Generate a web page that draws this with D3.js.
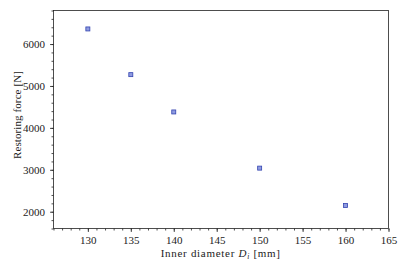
<!DOCTYPE html>
<html><head><meta charset="utf-8">
<script src="https://cdn.jsdelivr.net/npm/d3@7"></script>
<style>body{margin:0;background:#fff}svg{display:block}text{font-family:"Liberation Serif","DejaVu Serif",serif;fill:#222}</style>
</head><body>
<svg id="c" width="404" height="269"></svg>
<script>
const diameters = [130, 135, 140, 150, 160];
const forces = [6360, 5270, 4380, 3040, 2150];
const xTicks = [130, 135, 140, 145, 150, 155, 160, 165];
const yTicks = [2000, 3000, 4000, 5000, 6000];

const svg = d3.select("#c");
const L = 53.5, R = 388.5, T = 10.5, B = 228.5;
const x = d3.scaleLinear().domain([126, 165]).range([L, R]);
const y = d3.scaleLinear().domain([1600, 6800]).range([B, T]);

const fs = 11;
const ff = '"Liberation Serif","DejaVu Serif",serif';
// minor ticks
svg.append("g").attr("transform", `translate(0,${B})`)
  .call(d3.axisBottom(x).tickValues(d3.range(126, 166, 1)).tickSize(2).tickFormat(""));
svg.append("g").attr("transform", `translate(0,${B})`)
  .call(d3.axisBottom(x).tickValues(xTicks).tickSize(3.5).tickPadding(4).tickFormat(d3.format("d")));
svg.append("g").attr("transform", `translate(${L},0)`)
  .call(d3.axisLeft(y).tickValues(d3.range(1600, 6801, 200)).tickSize(2).tickFormat(""));
svg.append("g").attr("transform", `translate(${L},0)`)
  .call(d3.axisLeft(y).tickValues(yTicks).tickSize(3.5).tickPadding(5).tickFormat(d3.format("d")));
svg.selectAll(".domain").remove();
svg.selectAll("g").attr("font-family", ff);
svg.selectAll(".tick line").attr("stroke", "#222").attr("stroke-width", 0.8);
svg.selectAll(".tick text").attr("font-size", fs).attr("fill", "#222").style("font-family", ff);

// frame
svg.append("rect").attr("x", L).attr("y", T).attr("width", R - L).attr("height", B - T)
  .attr("fill", "none").attr("stroke", "#222").attr("stroke-width", 0.8);

// points
svg.append("g").selectAll("rect").data(diameters).join("rect")
  .attr("x", (d) => x(d) - 2).attr("y", (d, i) => y(forces[i]) - 2)
  .attr("width", 4).attr("height", 4)
  .attr("fill", "#8f9be0").attr("stroke", "#3344b0").attr("stroke-width", 0.8);

function fit(t, target, n) {
  const w = t.node().getComputedTextLength();
  t.attr("letter-spacing", ((target - w) / n).toFixed(3));
}

// labels
const xl = svg.append("text").attr("x", 160.7).attr("y", 256.8)
  .attr("text-anchor", "start").attr("font-size", fs);
xl.append("tspan").text("Inner diameter ");
xl.append("tspan").attr("font-style", "italic").text("D");
xl.append("tspan").attr("font-style", "italic").attr("font-size", 7.5).attr("dy", 2).text("i");
xl.append("tspan").attr("dy", -2).text(" [mm]");
fit(xl, 120, 22);

const yl = svg.append("text").attr("transform", `translate(20.5,159) rotate(-90)`)
  .attr("text-anchor", "start").attr("font-size", fs).text("Restoring force [N]");
fit(yl, 88, 19);
</script>
</body></html>
